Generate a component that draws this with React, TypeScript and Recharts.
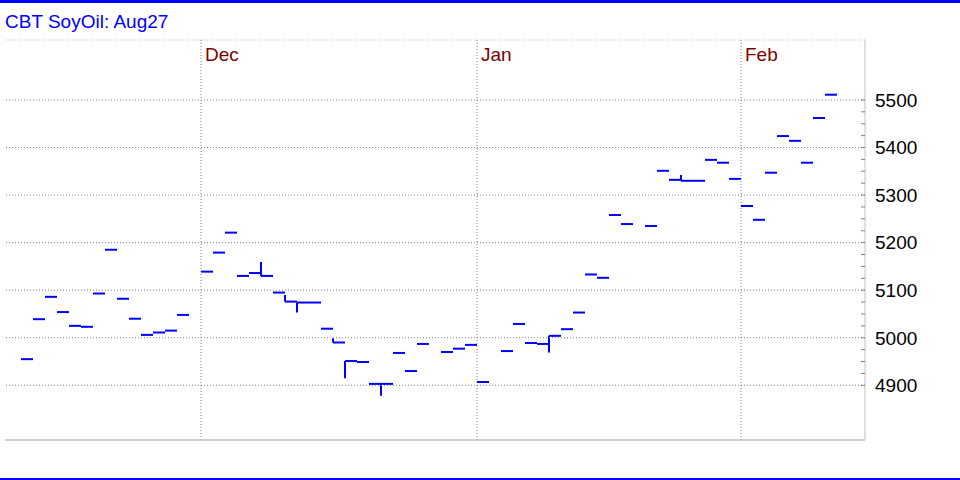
import { Bar, ComposedChart, Line, ReferenceLine, XAxis, YAxis } from "recharts";

const FONT = "'Liberation Sans', Arial, sans-serif";
const BLUE = "#0000ff";

// trading day slots (holiday slots have no bar)
const dates = [
  "2025-11-10", "2025-11-11", "2025-11-12", "2025-11-13", "2025-11-14",
  "2025-11-17", "2025-11-18", "2025-11-19", "2025-11-20", "2025-11-21",
  "2025-11-24", "2025-11-25", "2025-11-26", "2025-11-27", "2025-11-28",
  "2025-12-01", "2025-12-02", "2025-12-03", "2025-12-04", "2025-12-05",
  "2025-12-08", "2025-12-09", "2025-12-10", "2025-12-11", "2025-12-12",
  "2025-12-15", "2025-12-16", "2025-12-17", "2025-12-18", "2025-12-19",
  "2025-12-22", "2025-12-23", "2025-12-24", "2025-12-25", "2025-12-26",
  "2025-12-29", "2025-12-30", "2025-12-31",
  "2026-01-01", "2026-01-02", "2026-01-05", "2026-01-06", "2026-01-07",
  "2026-01-08", "2026-01-09", "2026-01-12", "2026-01-13", "2026-01-14",
  "2026-01-15", "2026-01-16", "2026-01-19", "2026-01-20", "2026-01-21",
  "2026-01-22", "2026-01-23", "2026-01-26", "2026-01-27", "2026-01-28",
  "2026-01-29", "2026-01-30",
  "2026-02-02", "2026-02-03", "2026-02-04", "2026-02-05", "2026-02-06",
  "2026-02-09", "2026-02-10", "2026-02-11",
];

const closes: (number | null)[] = [
  4955, 5039, 5086, 5054, 5025, 5023, 5093, 5185, 5082, 5040,
  5006, 5011, 5015, 5048, null, 5139, 5179, 5221, 5130, 5136,
  5130, 5095, 5076, 5074, 5074, 5019, 4990, 4951, 4949, 4903,
  4903, 4968, 4930, 4987, null, 4970, 4977, 4985, 4907, null,
  4972, 5029, 4989, 4987, 5004, 5018, 5053, 5133, 5126, 5258,
  5239, null, 5235, 5351, 5332, 5330, 5330, 5374, 5368, 5334,
  5277, 5248, 5347, 5424, 5414, 5368, 5462, 5511,
];

const highs: (number | null)[] = [
  4955, 5039, 5086, 5054, 5025, 5023, 5093, 5185, 5082, 5040,
  5006, 5011, 5015, 5048, null, 5139, 5179, 5221, 5130, 5136,
  5159, 5095, 5090, 5074, 5074, 5019, 4999, 4951, 4949, 4903,
  4903, 4968, 4930, 4987, null, 4970, 4977, 4985, 4907, null,
  4972, 5029, 4989, 4987, 5004, 5018, 5053, 5133, 5126, 5258,
  5239, null, 5235, 5351, 5332, 5342, 5330, 5374, 5368, 5334,
  5277, 5248, 5347, 5424, 5414, 5368, 5462, 5511,
];

const lows: (number | null)[] = [
  4955, 5039, 5086, 5054, 5025, 5023, 5093, 5185, 5082, 5040,
  5006, 5011, 5015, 5048, null, 5139, 5179, 5221, 5130, 5136,
  5130, 5095, 5076, 5053, 5074, 5019, 4990, 4915, 4949, 4903,
  4878, 4968, 4930, 4987, null, 4970, 4977, 4985, 4907, null,
  4972, 5029, 4989, 4987, 4969, 5018, 5053, 5133, 5126, 5258,
  5239, null, 5235, 5351, 5332, 5330, 5330, 5374, 5368, 5334,
  5277, 5248, 5347, 5424, 5414, 5368, 5462, 5511,
];

const priceTicks = [
  4900, 4925, 4950, 4975, 5000, 5025, 5050, 5075, 5100, 5125, 5150, 5175,
  5200, 5225, 5250, 5275, 5300, 5325, 5350, 5375, 5400, 5425, 5450, 5475, 5500,
];
const gridLevels = [4900, 5000, 5100, 5200, 5300, 5400, 5500];
const yDomain = [4785, 5626];

const monthStarts = ["2025-12-01", "2026-01-01", "2026-02-02"];
const monthNames = ["Dec", "Jan", "Feb"];

const data = dates.map((date, i) => ({
  date,
  close: closes[i],
  high: highs[i],
  low: lows[i],
}));

const rangeOf = (d: any) =>
  d.high != null && d.low != null && d.high > d.low ? [d.low, d.high] : null;

function RangeStem(props: any) {
  const { x, y, height } = props;
  if (x == null || y == null || !height) return <g />;
  const top = Math.min(y, y + height);
  return (
    <line x1={x} x2={x} y1={top} y2={top + Math.abs(height)} stroke={BLUE} strokeWidth={2} />
  );
}

function CloseTick(props: any) {
  const { cx, cy, index } = props;
  if (cx == null || cy == null || props.value == null) return <g key={`c-${index}`} />;
  return (
    <line
      key={`c-${index}`}
      x1={cx - 6}
      x2={cx + 6}
      y1={cy}
      y2={cy}
      stroke={BLUE}
      strokeWidth={2}
    />
  );
}

function PriceTick({ x, y, payload }: any) {
  const major = payload.value % 100 === 0;
  return (
    <g>
      <line x1={x - 4} x2={x} y1={y} y2={y} stroke="#808080" />
      {major && (
        <text x={x + 10} y={y} dy="0.36em" fontSize={19} fontFamily={FONT} fill="#000">
          {payload.value}
        </text>
      )}
    </g>
  );
}

const MonthLabel = ({ viewBox, text }: any) => (
  <text
    x={viewBox.x + 4}
    y={viewBox.y + 20.5}
    fill="#800000"
    fontSize={19}
    fontFamily={FONT}
  >
    {text}
  </text>
);

export default function App() {
  return (
    <div
      style={{
        position: "absolute",
        left: 0,
        top: 0,
        width: 960,
        height: 480,
        background: "#fff",
        fontFamily: FONT,
      }}
    >
      <div style={{ position: "absolute", left: 0, top: 0, width: 960, height: 3, background: BLUE }} />
      <div
        style={{
          position: "absolute",
          left: 5,
          top: 12,
          fontSize: 19,
          lineHeight: "19px",
          color: BLUE,
          whiteSpace: "nowrap",
        }}
      >
        CBT SoyOil: Aug27
      </div>
      <ComposedChart
        width={960}
        height={480}
        data={data}
        margin={{ top: 40, right: 0, bottom: 40, left: 5 }}
        barCategoryGap={0}
        barGap={0}
      >
        <XAxis
          dataKey="date"
          height={0}
          tick={false}
          tickLine={false}
          axisLine={false}
          padding={{ left: 16, right: 28 }}
        />
        <YAxis
          yAxisId="frame"
          orientation="left"
          width={0}
          domain={yDomain}
          type="number"
          tick={false}
          tickLine={false}
          axisLine={{ stroke: "#b4b4b4", strokeDasharray: "1 2" }}
        />
        <YAxis
          orientation="right"
          width={95}
          type="number"
          domain={yDomain}
          allowDataOverflow
          ticks={priceTicks}
          interval={0}
          tickSize={0}
          tickMargin={0}
          tickLine={false}
          axisLine={{ stroke: "#c0c0c0" }}
          tick={<PriceTick />}
        />
        <ReferenceLine y={yDomain[1]} stroke="#b4b4b4" strokeDasharray="1 2" />
        {gridLevels.map((v) => (
          <ReferenceLine key={v} y={v} stroke="#808080" strokeDasharray="1 2" />
        ))}
        {monthStarts.map((d, i) => (
          <ReferenceLine
            key={d}
            x={d}
            position="start"
            stroke="#808080"
            strokeDasharray="1 2"
            label={<MonthLabel text={monthNames[i]} />}
          />
        ))}
        <ReferenceLine y={yDomain[0]} stroke="#c0c0c0" strokeWidth={1.5} />
        <Bar dataKey={rangeOf} shape={<RangeStem />} isAnimationActive={false} />
        <Line
          dataKey="close"
          stroke="none"
          dot={CloseTick}
          activeDot={false}
          isAnimationActive={false}
        />
      </ComposedChart>
      <div style={{ position: "absolute", left: 0, top: 478, width: 960, height: 2, background: BLUE }} />
    </div>
  );
}
